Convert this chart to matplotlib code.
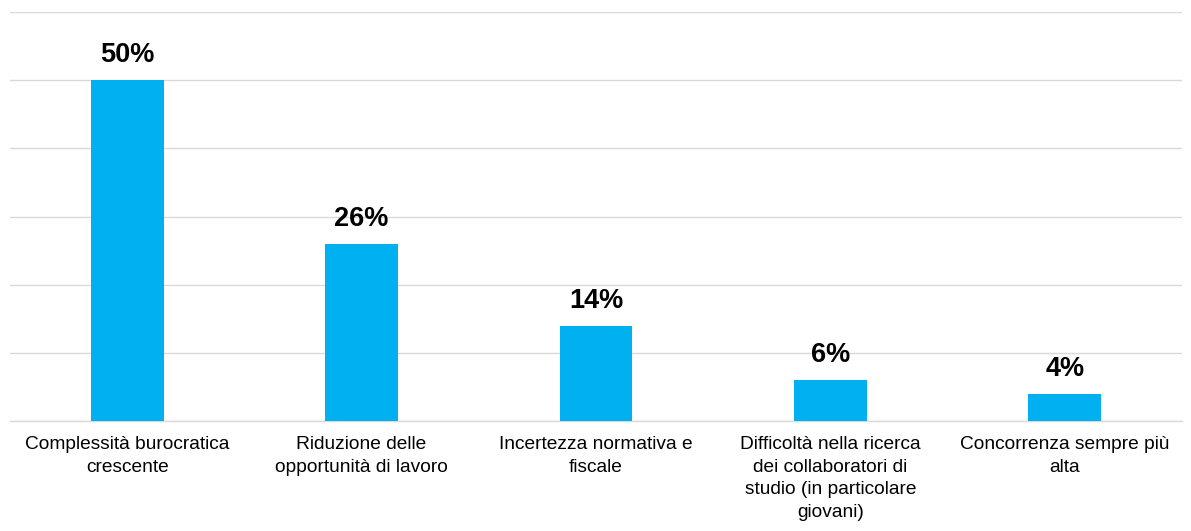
import numpy as np
import matplotlib.pyplot as plt

plt.rcParams['font.family'] = ['Liberation Sans', 'DejaVu Sans']

categorie = [
    "Complessità burocratica\ncrescente",
    "Riduzione delle\nopportunità di lavoro",
    "Incertezza normativa e\nfiscale",
    "Difficoltà nella ricerca\ndei collaboratori di\nstudio (in particolare\ngiovani)",
    "Concorrenza sempre più\nalta",
]
valori = [50, 26, 14, 6, 4]
etichette = ["50%", "26%", "14%", "6%", "4%"]

fig = plt.figure(figsize=(11.91, 5.31), dpi=100)
ax = fig.add_axes([10 / 1191, 1 - 421 / 531, 1172 / 1191, 409 / 531])

x = np.arange(len(valori))
bars = ax.bar(x, valori, width=0.31, color='#00B0F0', zorder=3)

# etichette sopra le barre
for b, t in zip(bars, etichette):
    ax.annotate(t, (b.get_x() + b.get_width() / 2, b.get_height()),
                xytext=(0, 13), textcoords='offset points',
                ha='center', va='baseline', fontsize=19.5, fontweight='bold')

ax.set_xlim(-0.5, len(valori) - 0.5)
ax.set_ylim(0, 60)
ax.set_yticks(np.arange(0, 61, 10))
ax.set_yticklabels([])
ax.tick_params(axis='y', length=0)
ax.tick_params(axis='x', length=0, pad=11)
ax.set_xticks(x)
ax.set_xticklabels(categorie, fontsize=13.8, linespacing=1.42, va='top')
ax.grid(axis='y', color='#D9D9D9', linewidth=1.0, zorder=0)

for s in ['top', 'right', 'left']:
    ax.spines[s].set_visible(False)
ax.spines['bottom'].set_color('#D9D9D9')
ax.spines['bottom'].set_linewidth(1.0)

fig.savefig('out.png', dpi=100)
